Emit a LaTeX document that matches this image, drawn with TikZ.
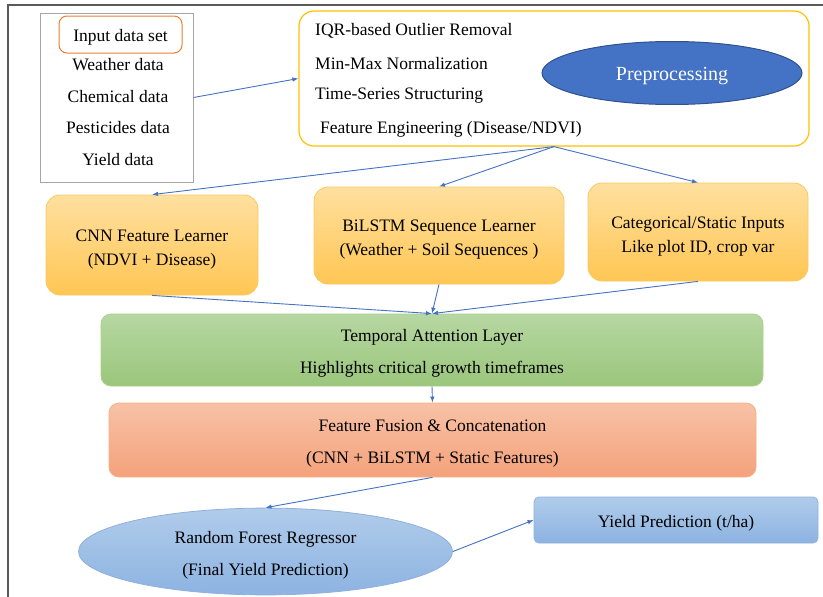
\documentclass[tikz,border=0pt]{standalone}
\usepackage{fontspec}
\setmainfont{Liberation Serif}
\usetikzlibrary{shapes.geometric,arrows.meta,positioning}

\definecolor{flowblue}{HTML}{4472C4}
\definecolor{ovaledge}{HTML}{2F528F}
\definecolor{framegray}{HTML}{5A5A5A}
\definecolor{boxgray}{HTML}{A6A6A6}
\definecolor{inorange}{HTML}{ED7D31}
\definecolor{prepgold}{HTML}{FFC000}
\definecolor{stagegold}{HTML}{F9C95E}
\definecolor{goldtop}{HTML}{FFE0A0}
\definecolor{goldbot}{HTML}{FFC653}
\definecolor{attgreen}{HTML}{A9D18E}
\definecolor{greentop}{HTML}{B6D7A2}
\definecolor{greenbot}{HTML}{9BC67C}
\definecolor{fuseedge}{HTML}{F4B183}
\definecolor{salmontop}{HTML}{F8C1A6}
\definecolor{salmonbot}{HTML}{F4A27B}
\definecolor{rfedge}{HTML}{8FB0DC}
\definecolor{bluetop}{HTML}{B0CCEA}
\definecolor{bluebot}{HTML}{8DB3E2}

\begin{document}
\begin{tikzpicture}[x=1pt,y=-1pt,every node/.style={font=\fontsize{17.5}{24}\selectfont, align=center},lowtext/.style={text height=14.5pt, text depth=0pt},twoline/.style={text height=51pt},stage/.style={text height=44.5pt, draw=stagegold, line width=0.8pt, rounded corners=14pt, top color=goldtop, bottom color=goldbot},flow/.style={draw=flowblue, line width=0.9pt, -{Latex[length=6pt,width=4.5pt]}},listitem/.style={anchor=west, inner sep=0pt}]
\useasboundingbox (0,0) rectangle (823,597);
\draw[framegray, line width=1.4pt] (8,597) -- (8,5) -- (823,5);
% input data
\node[draw=boxgray, line width=1pt, minimum width=153pt, minimum height=169pt] (datasets) at (116.5,97.5) {};
\node[lowtext, draw=inorange, line width=1pt, rounded corners=8pt, minimum width=123pt, minimum height=37pt] (inputset) at (120.5,34.5) {Input data set};
\node (weather) at (118,64.5) {Weather data};
\node[below of=weather, node distance=31.7pt] (chemical) {Chemical data};
\node[below of=chemical, node distance=31.7pt] (pesticides) {Pesticides data};
\node[below of=pesticides, node distance=31.7pt] (yielddata) {Yield data};
% preprocessing
\node[draw=prepgold, line width=1.2pt, rounded corners=15pt, minimum width=510pt, minimum height=135pt] (prep) at (554,78.5) {};
\node[listitem] (iqr) at (315,31) {IQR-based Outlier Removal};
\node[listitem] (minmax) at (315,63.5) {Min-Max Normalization};
\node[listitem] (series) at (315,95.5) {Time-Series Structuring};
\node[listitem] (feateng) at (320,129) {Feature Engineering (Disease/NDVI)};
\node[ellipse, lowtext, draw=ovaledge, line width=1pt, fill=flowblue, text=white, font=\fontsize{20}{24}\selectfont, minimum width=260pt, minimum height=63pt] (prepoval) at (672,73) {Preprocessing};
\draw[flow] (datasets.east) -- (prep.west);
% learners
\node[stage, minimum width=212pt, minimum height=100pt] (cnn) at (152,245) {CNN Feature Learner\\(NDVI + Disease)};
\node[stage, minimum width=250pt, minimum height=97pt] (bilstm) at (439,235.5) {BiLSTM Sequence Learner\\(Weather + Soil Sequences )};
\node[stage, minimum width=220pt, minimum height=98pt] (static) at (698,232) {Categorical/Static Inputs\\Like plot ID, crop var};
\draw[flow] (prep.south) -- (cnn.north);
\draw[flow] (prep.south) -- (bilstm.north);
\draw[flow] (prep.south) -- (static.north);
% attention and fusion
\node[twoline, draw=attgreen, line width=0.8pt, rounded corners=10pt, top color=greentop, bottom color=greenbot, minimum width=662pt, minimum height=72pt] (attn) at (432,350) {Temporal Attention Layer\\[8pt]Highlights critical growth timeframes};
\draw[flow] (cnn.south) -- (attn.north);
\draw[flow] (bilstm.south) -- (attn.north);
\draw[flow] (static.south) -- (attn.north);
\node[twoline, draw=fuseedge, line width=0.8pt, rounded corners=10pt, top color=salmontop, bottom color=salmonbot, minimum width=647pt, minimum height=74pt] (fusion) at (432.5,440) {Feature Fusion \& Concatenation\\[8pt](CNN + BiLSTM + Static Features)};
\draw[flow] (attn.south) -- (fusion.north);
% regressor and output
\node[ellipse, twoline, draw=rfedge, line width=0.8pt, top color=bluetop, bottom color=bluebot, minimum width=374pt, minimum height=85pt] (forest) at (265.5,551.5) {Random Forest Regressor\\[8pt](Final Yield Prediction)};
\node[lowtext, draw=rfedge, line width=0.8pt, rounded corners=5pt, top color=bluetop, bottom color=bluebot, minimum width=284pt, minimum height=46pt] (output) at (676,520) {Yield Prediction (t/ha)};
\draw[flow] (fusion.south) -- (forest.north);
\draw[flow] (forest.east) -- (output.west);
\end{tikzpicture}
\end{document}
